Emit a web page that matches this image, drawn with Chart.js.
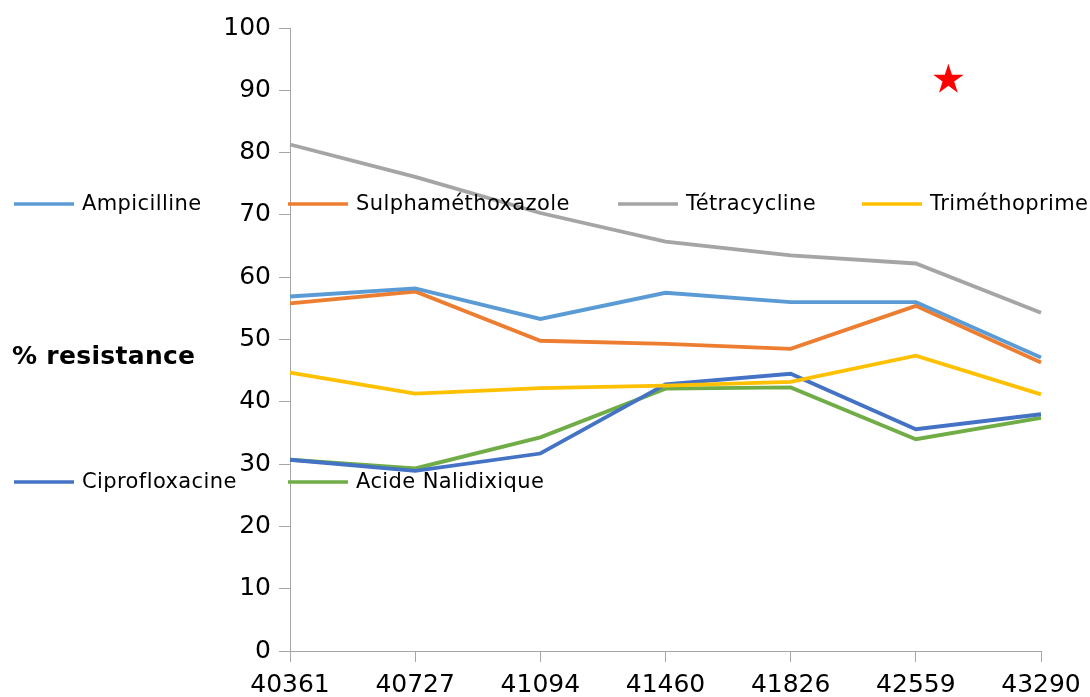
<!DOCTYPE html>
<html>
<head>
<meta charset="utf-8">
<script src="https://cdn.jsdelivr.net/npm/chart.js@4"></script>
<style>
  html, body { margin: 0; padding: 0; background: #fff; }
  #wrap { width: 1090px; height: 697px; position: relative; }
</style>
</head>
<body>
<div id="wrap"><canvas id="c" width="1090" height="697"></canvas></div>
<script>
// Sampling dates (serial day numbers)
const categories = ['40361', '40727', '41094', '41460', '41826', '42559', '43290'];

// Percentage of resistant isolates per antibiotic
const ampicilline     = [56.9, 58.2, 53.3, 57.5, 56.0, 56.0, 47.1];
const sulpha          = [55.8, 57.7, 49.8, 49.3, 48.5, 55.4, 46.3];
const tetracycline    = [81.3, 76.1, 70.3, 65.7, 63.5, 62.2, 54.3];
const trimethoprime   = [44.7, 41.3, 42.2, 42.6, 43.2, 47.4, 41.2];
const ciprofloxacine  = [30.7, 28.9, 31.7, 42.8, 44.5, 35.6, 38.0];
const nalidixique     = [30.7, 29.3, 34.3, 42.1, 42.3, 34.0, 37.4];

const seriesNames  = ['Ampicilline', 'Sulphaméthoxazole', 'Tétracycline', 'Triméthoprime', 'Ciprofloxacine', 'Acide Nalidixique'];
const seriesValues = [ampicilline, sulpha, tetracycline, trimethoprime, ciprofloxacine, nalidixique];
const seriesColors = ['#5B9BD5', '#ED7D31', '#A5A5A5', '#FFC000', '#4472C4', '#70AD47'];

const yTicks = [0, 10, 20, 30, 40, 50, 60, 70, 80, 90, 100];
const yTitle = '% resistance';

// Highlight marker (category index, % value)
const starMark = { x: 5.26, y: 91.7 };

const FONT = '"DejaVu Sans", sans-serif';
const AXIS_GREY = '#A6A6A6';

// Legend drawn in two rows over the plot
const legendPlugin = {
  id: 'rowLegend',
  afterDraw(chart) {
    const ctx = chart.ctx;
    const cols = [14, 288, 618, 862];
    const rows = [204, 482];
    ctx.save();
    ctx.font = '21px ' + FONT;
    ctx.letterSpacing = '0.4px';
    ctx.textBaseline = 'middle';
    ctx.textAlign = 'left';
    chart.data.datasets.forEach((ds, i) => {
      const x = cols[i % 4];
      const y = rows[Math.floor(i / 4)];
      ctx.strokeStyle = ds.borderColor;
      ctx.lineWidth = 3.5;
      ctx.beginPath();
      ctx.moveTo(x, y);
      ctx.lineTo(x + 60, y);
      ctx.stroke();
      ctx.fillStyle = '#000';
      ctx.fillText(ds.label, x + 68, y + 1);
    });
    ctx.restore();
  }
};

// Horizontal axis title at the left edge
const titlePlugin = {
  id: 'yTitle',
  afterDraw(chart) {
    const ctx = chart.ctx;
    ctx.save();
    ctx.font = 'bold 25px ' + FONT;
    ctx.letterSpacing = '0.3px';
    ctx.fillStyle = '#000';
    ctx.textBaseline = 'middle';
    ctx.textAlign = 'left';
    ctx.fillText(yTitle, 12, 357);
    ctx.restore();
  }
};

// Filled five-point star placed through the scales
const starPlugin = {
  id: 'star',
  afterDraw(chart) {
    const ctx = chart.ctx;
    const cx = chart.scales.x.getPixelForValue(starMark.x);
    const cy = chart.scales.y.getPixelForValue(starMark.y);
    const R = 16, r = R * 0.382;
    ctx.save();
    ctx.fillStyle = '#FF0000';
    ctx.beginPath();
    for (let k = 0; k < 10; k++) {
      const rad = k % 2 === 0 ? R : r;
      const a = -Math.PI / 2 + k * Math.PI / 5;
      const px = cx + rad * Math.cos(a);
      const py = cy + rad * Math.sin(a);
      if (k === 0) ctx.moveTo(px, py); else ctx.lineTo(px, py);
    }
    ctx.closePath();
    ctx.fill();
    ctx.restore();
  }
};

new Chart(document.getElementById('c'), {
  type: 'line',
  data: {
    labels: categories,
    datasets: seriesNames.map((name, i) => ({
      label: name,
      data: seriesValues[i],
      borderColor: seriesColors[i],
      backgroundColor: seriesColors[i],
      borderWidth: 3.8,
      pointRadius: 0,
      tension: 0,
      fill: false
    }))
  },
  options: {
    responsive: false,
    animation: false,
    devicePixelRatio: 1,
    layout: { padding: { left: 0, top: 28, right: 49, bottom: 0 } },
    plugins: {
      legend: { display: false },
      tooltip: { enabled: false },
      title: { display: false }
    },
    scales: {
      x: {
        type: 'category',
        offset: false,
        grid: { drawOnChartArea: false, drawTicks: true, tickLength: 11, color: AXIS_GREY },
        border: { color: AXIS_GREY, width: 1 },
        ticks: { color: '#000', font: { family: FONT, size: 25 }, padding: 8, maxRotation: 0, autoSkip: false },
        afterFit(scale) { scale.height = 46; }
      },
      y: {
        min: 0,
        max: 100,
        afterBuildTicks(scale) { scale.ticks = yTicks.map(v => ({ value: v })); },
        grid: { drawOnChartArea: false, drawTicks: true, tickLength: 11, color: AXIS_GREY },
        border: { color: AXIS_GREY, width: 1 },
        ticks: { color: '#000', font: { family: FONT, size: 25 }, padding: 8 },
        afterFit(scale) { scale.width = 290; }
      }
    }
  },
  plugins: [legendPlugin, titlePlugin, starPlugin]
});
</script>
</body>
</html>
